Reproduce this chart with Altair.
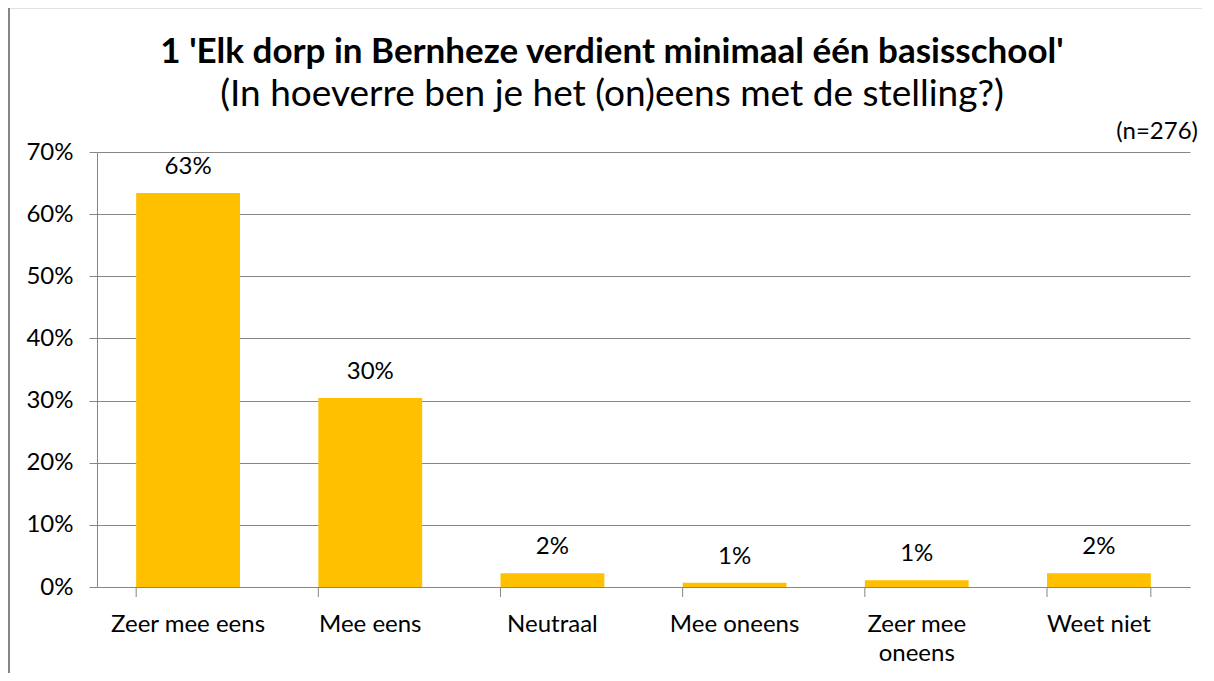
import altair as alt
import pandas as pd

categories = ["Zeer mee eens", "Mee eens", "Neutraal", "Mee oneens", "Zeer mee oneens", "Weet niet"]
values = [63.4, 30.4, 2.2, 0.7, 1.1, 2.2]
labels = ["63%", "30%", "2%", "1%", "1%", "2%"]
y_ticks = [0, 10, 20, 30, 40, 50, 60, 70]

title = "1 'Elk dorp in Bernheze verdient minimaal één basisschool'"
subtitle = "(In hoeverre ben je het (on)eens met de stelling?)"
note = "(n=276)"

FONT = "Lato"
GRID = "#868686"
W, H = 1093, 435

df = pd.DataFrame({"cat": categories, "val": values, "lab": labels})

xscale = alt.Scale(domain=categories, paddingInner=0.43, paddingOuter=0.215)
yscale = alt.Scale(domain=[0, 70], nice=False)

bars = alt.Chart(df).mark_bar(color="#FFC000").encode(
    x=alt.X("cat:N", scale=xscale, sort=categories,
            axis=alt.Axis(title=None, labelAngle=0, ticks=False, domain=True,
                          domainColor=GRID, labelFont=FONT, labelFontSize=24,
                          labelColor="#000000", labelPadding=25, labelLineHeight=29,
                          labelExpr="datum.label == 'Zeer mee oneens' ? ['Zeer mee', 'oneens'] : datum.label")),
    y=alt.Y("val:Q", scale=yscale,
            axis=alt.Axis(title=None, values=y_ticks, labelExpr="datum.value + '%'",
                          grid=True, gridColor=GRID, gridOpacity=1, domainColor=GRID,
                          tickColor=GRID, tickSize=8, labelFont=FONT, labelFontSize=24,
                          labelColor="#000000", labelPadding=16)),
)

text = alt.Chart(df).mark_text(font=FONT, fontSize=24, color="#000000", dy=-19,
                               baseline="alphabetic").encode(
    x=alt.X("cat:N", scale=xscale, sort=categories),
    y=alt.Y("val:Q", scale=yscale),
    text="lab:N",
)

xticks = alt.Chart(df).mark_rule(color=GRID, strokeWidth=1).encode(
    x=alt.X("cat:N", scale=xscale, sort=categories, bandPosition=0),
    y=alt.value(H),
    y2=alt.value(H + 10),
)
xtick_end = alt.Chart(df).transform_filter(
    alt.datum.cat == categories[-1]
).mark_rule(color=GRID, strokeWidth=1).encode(
    x=alt.X("cat:N", scale=xscale, sort=categories, bandPosition=1),
    y=alt.value(H),
    y2=alt.value(H + 10),
)

one = pd.DataFrame({"t": [title], "s": [subtitle], "n": [note]})
title_mark = alt.Chart(one).mark_text(font=FONT, fontSize=35, fontWeight="bold",
                                      color="#000000", align="center",
                                      baseline="alphabetic").encode(
    x=alt.value(515), y=alt.value(-89), text="t:N")
sub_mark = alt.Chart(one).mark_text(font=FONT, fontSize=37, color="#000000",
                                    align="center", baseline="alphabetic").encode(
    x=alt.value(515), y=alt.value(-46), text="s:N")
note_mark = alt.Chart(one).mark_text(font=FONT, fontSize=24, color="#000000",
                                     align="right", baseline="alphabetic").encode(
    x=alt.value(1101), y=alt.value(-13), text="n:N")
border_top = alt.Chart(one).mark_rule(color=GRID, strokeWidth=1.5).encode(
    x=alt.value(-89), x2=alt.value(W + 100), y=alt.value(-144.5))
border_left = alt.Chart(one).mark_rule(color=GRID, strokeWidth=2).encode(
    x=alt.value(-88), y=alt.value(-145), y2=alt.value(H + 100))

chart = alt.layer(border_top, border_left, bars, text, xticks, xtick_end,
                  title_mark, sub_mark, note_mark).properties(
    width=W, height=H,
    autosize=alt.AutoSizeParams(type="none"),
    padding={"left": 89, "top": 144, "right": 12, "bottom": 86},
).configure(background="white").configure_view(stroke=None)

chart.save("out.html", embed_options={"renderer": "svg", "actions": False})
